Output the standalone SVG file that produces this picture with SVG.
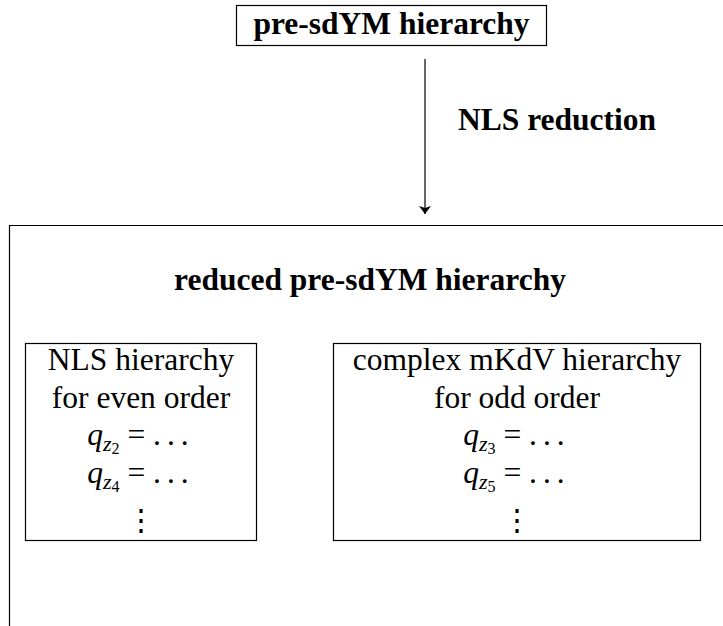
<svg xmlns="http://www.w3.org/2000/svg" width="723" height="626" viewBox="0 0 723 626">
<style>
  .box { fill: none; stroke: #000; stroke-width: 1.2; }
  .edge { fill: none; stroke: #000; stroke-width: 1.2; }
  .b { font-weight: bold; font-size: 31.5px; fill: #000; }
  .t { font-size: 31.5px; fill: #000; }
</style>
<defs>
  <marker id="arr" viewBox="0 0 8 12" refX="8" refY="6" markerWidth="8" markerHeight="12" markerUnits="userSpaceOnUse" orient="auto">
    <path d="M0,0 L8,6 L0,12 L2,6 Z" fill="#000"/>
  </marker>
</defs>
<rect width="723" height="626" fill="#fff"/>
<g id="top">
  <rect class="box" x="236.5" y="5.5" width="310" height="40"/>
  <text class="b" font-family="Liberation Serif, serif" x="391.5" y="34" text-anchor="middle">pre-sdYM hierarchy</text>
</g>
<g id="connectors">
  <line class="edge" x1="425" y1="59" x2="425" y2="214" marker-end="url(#arr)"/>
  <text class="b" font-family="Liberation Serif, serif" x="458" y="130">NLS reduction</text>
</g>
<g id="reduced">
  <path class="box" d="M9.5,626 V225.5 H723"/>
  <text class="b" font-family="Liberation Serif, serif" x="370" y="290" text-anchor="middle">reduced pre-sdYM hierarchy</text>
</g>
<g id="nls">
  <rect class="box" x="25.5" y="343.5" width="231" height="197"/>
  <text class="t" font-family="Liberation Serif, serif" x="141" y="370" text-anchor="middle">NLS hierarchy</text>
  <text class="t" font-family="Liberation Serif, serif" x="141" y="408" text-anchor="middle">for even order</text>
  <text class="t" font-family="Liberation Serif, serif" x="141" y="445" text-anchor="middle"><tspan font-style="italic">q</tspan><tspan font-style="italic" font-size="22" dy="6">z</tspan><tspan font-size="16" dy="3">2</tspan><tspan dy="-9"> = </tspan><tspan letter-spacing="6">...</tspan></text>
  <text class="t" font-family="Liberation Serif, serif" x="141" y="483" text-anchor="middle"><tspan font-style="italic">q</tspan><tspan font-style="italic" font-size="22" dy="6">z</tspan><tspan font-size="16" dy="3">4</tspan><tspan dy="-9"> = </tspan><tspan letter-spacing="6">...</tspan></text>
  <text font-family="Liberation Serif, serif" font-size="30" x="141" y="530" text-anchor="middle">⋮</text>
</g>
<g id="mkdv">
  <rect class="box" x="333.5" y="343.5" width="367" height="197"/>
  <text class="t" font-family="Liberation Serif, serif" x="517" y="370" text-anchor="middle">complex mKdV hierarchy</text>
  <text class="t" font-family="Liberation Serif, serif" x="517" y="408" text-anchor="middle">for odd order</text>
  <text class="t" font-family="Liberation Serif, serif" x="517" y="445" text-anchor="middle"><tspan font-style="italic">q</tspan><tspan font-style="italic" font-size="22" dy="6">z</tspan><tspan font-size="16" dy="3">3</tspan><tspan dy="-9"> = </tspan><tspan letter-spacing="6">...</tspan></text>
  <text class="t" font-family="Liberation Serif, serif" x="517" y="483" text-anchor="middle"><tspan font-style="italic">q</tspan><tspan font-style="italic" font-size="22" dy="6">z</tspan><tspan font-size="16" dy="3">5</tspan><tspan dy="-9"> = </tspan><tspan letter-spacing="6">...</tspan></text>
  <text font-family="Liberation Serif, serif" font-size="30" x="517" y="530" text-anchor="middle">⋮</text>
</g>
</svg>
